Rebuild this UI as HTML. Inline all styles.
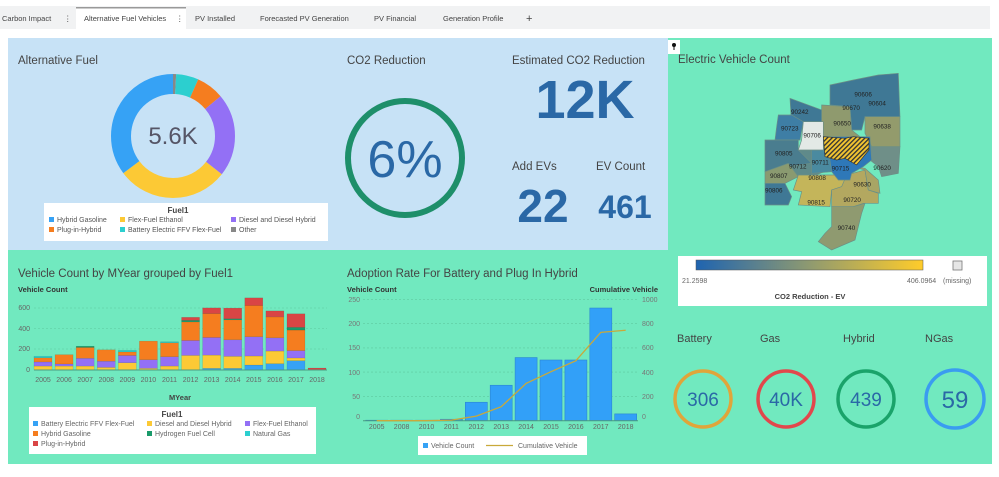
<!DOCTYPE html>
<html><head><meta charset="utf-8"><style>
body{margin:0;width:999px;height:477px;background:#fff;font-family:"Liberation Sans",sans-serif;overflow:hidden}
svg{display:block}
</style></head><body>
<svg width="999" height="477" viewBox="0 0 999 477" font-family="Liberation Sans, sans-serif">
<defs>
<pattern id="hatch" width="10" height="10" patternUnits="userSpaceOnUse" patternTransform="rotate(45)">
<rect width="10" height="10" fill="#f2c431"/><rect width="4" height="10" fill="#333"/></pattern>
<linearGradient id="cg"><stop offset="0" stop-color="#1f64b0"/><stop offset="0.5" stop-color="#8f9a70"/><stop offset="1" stop-color="#ffcc2a"/></linearGradient>
</defs>
<!-- tabs -->
<rect x="0" y="6" width="990" height="23" fill="#f1f2f3"/>
<rect x="76" y="7" width="110" height="23" fill="#fff"/>
<rect x="76" y="7" width="110" height="1.5" fill="#999"/>
<g font-size="7.5" fill="#444">
<text x="2" y="21">Carbon Impact</text><text x="64" y="21">⋮</text>
<text x="84" y="21">Alternative Fuel Vehicles</text><text x="176" y="21">⋮</text>
<text x="195" y="21">PV Installed</text><text x="260" y="21">Forecasted PV Generation</text>
<text x="374" y="21">PV Financial</text><text x="443" y="21">Generation Profile</text>
<text x="526" y="22" font-size="11">+</text></g>
<!-- panels -->
<rect x="8" y="38" width="660" height="212" fill="#c7e2f6"/>
<rect x="668" y="38" width="324" height="426" fill="#71e9bf"/>
<rect x="8" y="250" width="660" height="214" fill="#71e9bf"/>
<!-- donut -->
<text x="18" y="64" font-size="11.5" fill="#444">Alternative Fuel</text>
<g transform="translate(173,136) rotate(-90)" fill="none" stroke-width="20">
<circle r="52" stroke="#888" stroke-dasharray="2.72 400" stroke-dashoffset="0"/>
<circle r="52" stroke="#2ccfcf" stroke-dasharray="19.06 400" stroke-dashoffset="-2.72"/>
<circle r="52" stroke="#f57d1f" stroke-dasharray="23.6 400" stroke-dashoffset="-21.78"/>
<circle r="52" stroke="#9370f5" stroke-dasharray="70.8 400" stroke-dashoffset="-45.38"/>
<circle r="52" stroke="#fcc935" stroke-dasharray="95.3 400" stroke-dashoffset="-116.18"/>
<circle r="52" stroke="#36a2f5" stroke-dasharray="115.3 400" stroke-dashoffset="-211.48"/>
</g>
<text x="173" y="144" font-size="24" fill="#556" text-anchor="middle">5.6K</text>
<rect x="44" y="203" width="284" height="38" fill="#fff"/>
<text x="178" y="213" font-size="8" font-weight="bold" fill="#444" text-anchor="middle">Fuel1</text>
<g font-size="7" fill="#555">
<rect x="49" y="217" width="5" height="5" fill="#36a2f5"/><text x="57" y="222">Hybrid Gasoline</text>
<rect x="120" y="217" width="5" height="5" fill="#fcc935"/><text x="128" y="222">Flex-Fuel Ethanol</text>
<rect x="231" y="217" width="5" height="5" fill="#9370f5"/><text x="239" y="222">Diesel and Diesel Hybrid</text>
<rect x="49" y="227" width="5" height="5" fill="#f57d1f"/><text x="57" y="232">Plug-in-Hybrid</text>
<rect x="120" y="227" width="5" height="5" fill="#2ccfcf"/><text x="128" y="232">Battery Electric FFV Flex-Fuel</text>
<rect x="231" y="227" width="5" height="5" fill="#888"/><text x="239" y="232">Other</text></g>
<!-- CO2 -->
<text x="347" y="64" font-size="11.5" fill="#444">CO2 Reduction</text>
<circle cx="405" cy="158" r="57" fill="none" stroke="#1e8f6a" stroke-width="6"/>
<text x="405" y="177" font-size="52" fill="#2a68a6" text-anchor="middle">6%</text>
<text x="512" y="64" font-size="11.5" fill="#444">Estimated CO2 Reduction</text>
<text x="585" y="118" font-size="54" font-weight="bold" fill="#2a68a6" text-anchor="middle">12K</text>
<text x="512" y="170" font-size="11.5" fill="#444">Add EVs</text>
<text x="596" y="170" font-size="11.5" fill="#444">EV Count</text>
<text x="543" y="222" font-size="46" font-weight="bold" fill="#2a68a6" text-anchor="middle">22</text>
<text x="625" y="218" font-size="32" font-weight="bold" fill="#2a68a6" text-anchor="middle">461</text>
<!-- map -->
<rect x="668" y="40" width="12" height="14" fill="#fff"/>
<circle cx="674" cy="45" r="2" fill="#111"/><rect x="673.5" y="45" width="1" height="5" fill="#111"/>
<text x="678" y="63" font-size="11.5" fill="#444">Electric Vehicle Count</text>
<g transform="translate(665,40) scale(0.3333)" stroke="#6b8f86" stroke-width="2">
<polygon fill="#3f7895" points="495,135 565,120 640,105 700,100 705,230 600,230 590,270 560,270 555,200 495,195"/>
<polygon fill="#3f7895" points="375,175 470,210 470,245 415,245 405,290 345,280 350,230 378,225"/>
<polygon fill="#3e7ea5" points="340,225 380,225 415,245 405,300 330,300 335,260"/>
<polygon fill="#4a7d8f" points="300,300 400,300 400,330 440,330 440,370 370,380 330,395 300,395"/>
<polygon fill="#5f8a8a" points="400,330 475,330 490,390 440,410 370,410 370,380 440,370"/>
<polygon fill="#8a9a70" points="300,395 370,370 400,410 360,430 300,430"/>
<polygon fill="#3f7895" points="300,430 360,430 380,470 370,495 300,495"/>
<polygon fill="#c4b55a" points="400,405 545,405 560,425 530,440 500,450 495,500 400,495 410,455 385,450"/>
<polygon fill="#b3a860" points="545,405 600,390 610,450 640,460 640,490 595,490 565,500 500,500 500,450 530,440"/>
<polygon fill="#a8a565" points="560,380 600,385 640,420 645,460 610,450 600,390"/>
<polygon fill="#8f9a70" points="500,500 565,500 600,490 590,520 570,600 500,630 460,605 480,580 500,560"/>
<polygon fill="#8f9a6e" points="470,195 555,200 560,270 585,290 475,290 470,245"/>
<polygon fill="#939b6c" points="600,230 705,230 705,320 620,320 600,280"/>
<polygon fill="#6f8f88" points="615,320 705,320 700,400 650,410 640,380 615,360"/>
<polygon fill="#2e78b8" points="475,290 615,290 620,360 595,380 560,400 555,420 520,420 500,395 480,380"/>
<polygon fill="#4a8aa0" points="440,330 490,330 500,395 440,400"/>
<polygon fill="#e3e9e6" points="415,245 475,245 475,330 400,330 410,300"/>
<polygon fill="url(#hatch)" stroke="#333" points="475,290 540,295 565,290 612,295 612,330 575,375 540,355 515,360 480,350"/>
<g font-size="19" fill="#222" stroke="none">
<text x="568" y="170">90606</text><text x="610" y="197">90604</text><text x="532" y="210">90670</text>
<text x="378" y="222">90242</text><text x="505" y="257">90650</text><text x="625" y="265">90638</text>
<text x="348" y="272">90723</text><text x="415" y="292">90706</text><text x="330" y="347">90805</text>
<text x="372" y="385">90712</text><text x="440" y="374">90711</text><text x="500" y="392">90715</text>
<text x="625" y="390">90620</text><text x="315" y="414">90807</text><text x="430" y="420">90808</text>
<text x="565" y="440">90630</text><text x="300" y="457">90806</text><text x="427" y="494">90815</text>
<text x="535" y="486">90720</text><text x="518" y="570">90740</text></g>
</g>
<rect x="678" y="256" width="309" height="50" fill="#fff"/>
<rect x="696" y="260" width="227" height="10" fill="url(#cg)" stroke="#555" stroke-width="0.5"/>
<rect x="953" y="261" width="9" height="9" fill="#e6e6e6" stroke="#777" stroke-width="0.8"/>
<g font-size="7" fill="#666"><text x="682" y="283">21.2598</text><text x="907" y="283">406.0964</text><text x="943" y="283">(missing)</text></g>
<text x="810" y="299" font-size="7.5" font-weight="bold" fill="#444" text-anchor="middle">CO2 Reduction - EV</text>
<!-- KPI circles -->
<g font-size="11" fill="#444"><text x="677" y="342">Battery</text><text x="760" y="342">Gas</text><text x="843" y="342">Hybrid</text><text x="925" y="342">NGas</text></g>
<g fill="none" stroke-width="3.5">
<circle cx="703" cy="399" r="28" stroke="#e0a53a"/><circle cx="786" cy="399" r="28" stroke="#e2474c"/>
<circle cx="866" cy="399" r="28" stroke="#1aa36a"/><circle cx="955" cy="399" r="29" stroke="#3a9cf0"/></g>
<g font-size="19" fill="#2a68a6" text-anchor="middle"><text x="703" y="406">306</text><text x="786" y="406">40K</text><text x="866" y="406">439</text><text x="955" y="408" font-size="24">59</text></g>
<!-- stacked bar -->
<text x="18" y="277" font-size="11.5" fill="#444">Vehicle Count by MYear grouped by Fuel1</text>
<text x="18" y="292" font-size="7.5" font-weight="bold" fill="#333">Vehicle Count</text>
<g stroke="#5fc9a0" stroke-width="0.6" stroke-dasharray="2 2"><line x1="34" x2="327" y1="308" y2="308"/><line x1="34" x2="327" y1="328.5" y2="328.5"/><line x1="34" x2="327" y1="349" y2="349"/></g>
<g font-size="7" fill="#666" text-anchor="end"><text x="30" y="310">600</text><text x="30" y="331">400</text><text x="30" y="351">200</text><text x="30" y="372">0</text></g>
<g id="sb"></g>
<line x1="34" x2="327" y1="370" y2="370" stroke="#4a9a80" stroke-width="1"/>
<g font-size="7" fill="#666" text-anchor="middle" id="sby"></g>
<text x="180" y="400" font-size="7.5" font-weight="bold" fill="#444" text-anchor="middle">MYear</text>
<rect x="29" y="407" width="287" height="47" fill="#fff"/>
<text x="172" y="417" font-size="8" font-weight="bold" fill="#444" text-anchor="middle">Fuel1</text>
<g font-size="7" fill="#666">
<rect x="33" y="421" width="5" height="5" fill="#36a2f5"/><text x="41" y="426">Battery Electric FFV Flex-Fuel</text>
<rect x="147" y="421" width="5" height="5" fill="#fcc935"/><text x="155" y="426">Diesel and Diesel Hybrid</text>
<rect x="245" y="421" width="5" height="5" fill="#9370f5"/><text x="253" y="426">Flex-Fuel Ethanol</text>
<rect x="33" y="431" width="5" height="5" fill="#f57d1f"/><text x="41" y="436">Hybrid Gasoline</text>
<rect x="147" y="431" width="5" height="5" fill="#1a9a6a"/><text x="155" y="436">Hydrogen Fuel Cell</text>
<rect x="245" y="431" width="5" height="5" fill="#2ccfcf"/><text x="253" y="436">Natural Gas</text>
<rect x="33" y="441" width="5" height="5" fill="#d94545"/><text x="41" y="446">Plug-in-Hybrid</text></g>
<!-- adoption -->
<text x="347" y="277" font-size="11.5" fill="#444">Adoption Rate For Battery and Plug In Hybrid</text>
<text x="347" y="292" font-size="7.5" font-weight="bold" fill="#333">Vehicle Count</text>
<text x="658" y="292" font-size="7.5" font-weight="bold" fill="#333" text-anchor="end">Cumulative Vehicle</text>
<g stroke="#5fc9a0" stroke-width="0.6" stroke-dasharray="2 2"><line x1="363" x2="638" y1="299.3" y2="299.3"/><line x1="363" x2="638" y1="323.6" y2="323.6"/><line x1="363" x2="638" y1="347.9" y2="347.9"/><line x1="363" x2="638" y1="372.1" y2="372.1"/><line x1="363" x2="638" y1="396.4" y2="396.4"/></g>
<g font-size="7" fill="#777" text-anchor="end"><text x="360" y="302">250</text><text x="360" y="326">200</text><text x="360" y="350">150</text><text x="360" y="375">100</text><text x="360" y="399">50</text><text x="360" y="419">0</text></g>
<g font-size="7" fill="#777"><text x="642" y="302">1000</text><text x="642" y="326">800</text><text x="642" y="350">600</text><text x="642" y="375">400</text><text x="642" y="399">200</text><text x="642" y="419">0</text></g>
<g id="ab"></g>
<line x1="363" x2="638" y1="420.7" y2="420.7" stroke="#4a9a80"/>
<polyline id="al" fill="none" stroke="#c9a93a" stroke-width="1.3"/>
<g font-size="7" fill="#666" text-anchor="middle" id="aby"></g>
<rect x="418" y="436" width="169" height="19" fill="#fff"/>
<rect x="423" y="443" width="5" height="5" fill="#36a2f5"/>
<text x="431" y="448" font-size="7" fill="#666">Vehicle Count</text>
<line x1="486" x2="513" y1="445.5" y2="445.5" stroke="#c9a93a" stroke-width="1.3"/>
<text x="518" y="448" font-size="7" fill="#666">Cumulative Vehicle</text>
</svg>
<script>
var NS="http://www.w3.org/2000/svg";
function el(p,t,a,txt){var e=document.createElementNS(NS,t);for(var k in a)e.setAttribute(k,a[k]);if(txt!=null)e.textContent=txt;document.getElementById(p).appendChild(e);}
var cols=["#36a2f5","#fcc935","#9370f5","#f57d1f","#1a9a6a","#2ccfcf","#d94545"];
var d=[[0,38,40,40,0,15,0],[0,38,20,90,0,0,0],[0,38,75,105,12,0,0],[0,25,60,110,0,0,0],[0,70,70,35,0,15,0],[0,16,83,180,0,0,0],[0,38,90,135,0,10,0],[0,141,144,180,15,0,29],[16,128,170,231,0,0,55],[16,116,160,193,10,0,103],[48,87,186,302,0,0,74],[61,122,128,202,0,0,58],[90,26,71,199,26,0,131],[0,0,0,0,0,0,19]];
var k=0.1035;
for(var i=0;i<14;i++){var x=43+i*21.08,y=370;for(var j=0;j<7;j++){var h=d[i][j]*k;if(h>0){y-=h;el("sb","rect",{x:x-9,y:y,width:18,height:h,fill:cols[j],stroke:"rgba(0,0,0,0.15)","stroke-width":0.5});}}
el("sby","text",{x:x,y:382},String(2005+i));}
var yrs=["2005","2008","2010","2011","2012","2013","2014","2015","2016","2017","2018"];
var v=[1,1,1,3,38,73,130,125,125,232,14],c=[0,0,0,5,38,115,307,404,494,728,745];
var pts=[];
for(var i=0;i<11;i++){var x=376.7+i*24.9,h=v[i]*0.4856;
el("ab","rect",{x:x-11,y:420.7-h,width:22,height:h,fill:"#32a0f8",stroke:"#2a86d0","stroke-width":0.6});
el("aby","text",{x:x,y:429},yrs[i]);pts.push(x+","+(420.7-c[i]*0.1214));}
document.getElementById("al").setAttribute("points",pts.join(" "));
</script>
</body></html>
